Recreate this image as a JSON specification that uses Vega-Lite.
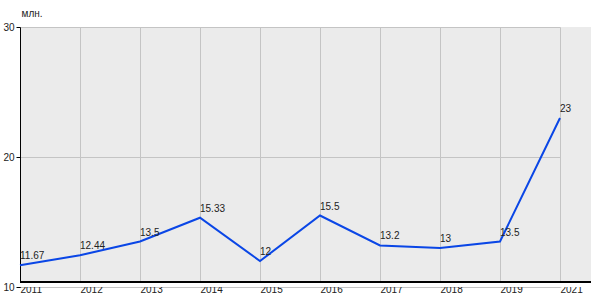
{
  "$schema": "https://vega.github.io/schema/vega-lite/v6.json",
  "width": 571,
  "height": 260,
  "autosize": {"type": "none"},
  "padding": {"left": 20, "top": 27, "right": 9, "bottom": 13},
  "background": "white",
  "config": {
    "view": {"fill": "#ebebeb", "stroke": null},
    "font": "Liberation Sans"
  },
  "data": {
    "values": [
      {"year": "2011", "value": 11.67, "label": "11.67"},
      {"year": "2012", "value": 12.44, "label": "12.44"},
      {"year": "2013", "value": 13.5, "label": "13.5"},
      {"year": "2014", "value": 15.33, "label": "15.33"},
      {"year": "2015", "value": 12, "label": "12"},
      {"year": "2016", "value": 15.5, "label": "15.5"},
      {"year": "2017", "value": 13.2, "label": "13.2"},
      {"year": "2018", "value": 13, "label": "13"},
      {"year": "2019", "value": 13.5, "label": "13.5"},
      {"year": "2021", "value": 23, "label": "23"}
    ]
  },
  "layer": [
    {
      "mark": {"type": "rect", "color": "white"},
      "encoding": {
        "y": {"datum": 10.38, "type": "quantitative"},
        "y2": {"datum": 10}
      }
    },
    {
      "mark": {"type": "rule", "color": "black", "strokeWidth": 1},
      "encoding": {
        "y": {"datum": 10.38, "type": "quantitative"}
      }
    },
    {
      "mark": {"type": "line", "color": "#0a46e6", "strokeWidth": 2},
      "encoding": {
        "x": {
          "field": "year",
          "type": "ordinal",
          "sort": null,
          "scale": {"type": "point", "range": [0, 540], "padding": 0},
          "axis": {
            "title": null,
            "labelAngle": 0,
            "labelAlign": "left",
            "labelBaseline": "top",
            "labelPadding": -3,
            "ticks": false,
            "domain": false,
            "grid": true,
            "gridColor": "#c4c4c4",
            "gridOpacity": 1,
            "labelFontSize": 10,
            "labelColor": "#222222"
          }
        },
        "y": {
          "field": "value",
          "type": "quantitative",
          "scale": {"domain": [10, 30], "nice": false, "zero": false},
          "axis": {
            "values": [10, 20, 30],
            "title": "млн.",
            "titleAngle": 0,
            "titleAlign": "left",
            "titleBaseline": "alphabetic",
            "titleX": 1,
            "titleY": -11,
            "titleFontWeight": "normal",
            "titleFontSize": 10,
            "titleColor": "#222222",
            "labelFontSize": 10,
            "labelColor": "#222222",
            "labelPadding": 2,
            "tickSize": 4,
            "tickColor": "black",
            "domainColor": "black",
            "grid": true,
            "gridColor": "#c4c4c4",
            "gridOpacity": 1
          }
        }
      }
    },
    {
      "mark": {"type": "text", "align": "left", "baseline": "bottom", "dx": 0, "dy": -4, "fontSize": 10, "color": "#222222"},
      "encoding": {
        "x": {"field": "year", "type": "ordinal", "sort": null},
        "y": {"field": "value", "type": "quantitative"},
        "text": {"field": "label", "type": "nominal"}
      }
    }
  ]
}
